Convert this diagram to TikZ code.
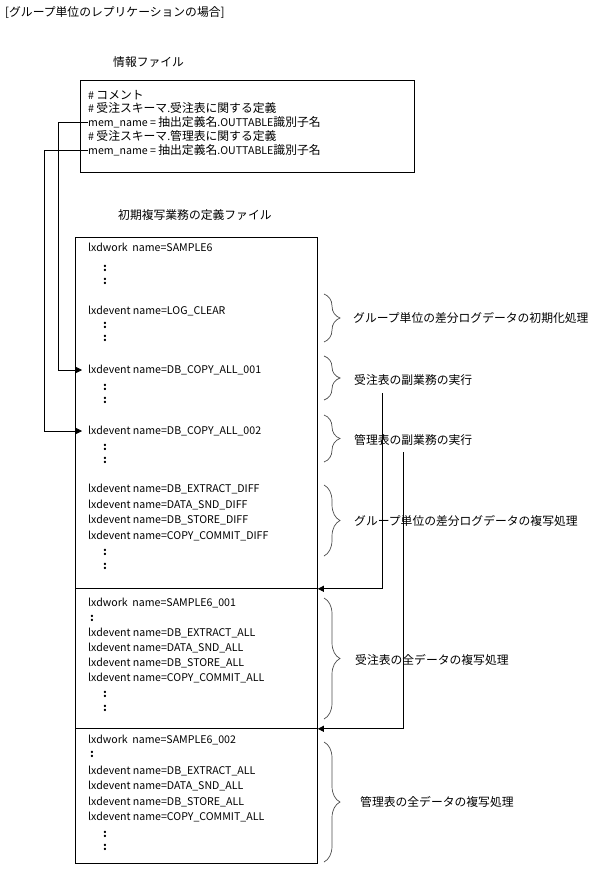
\documentclass[tikz,border=0pt]{standalone}
\usepackage{fontspec}
\setmainfont{Noto Sans CJK JP}
\usetikzlibrary{arrows.meta,decorations.pathreplacing}
\newcommand\jtext[1]{{\fontsize{11.8}{13}\selectfont #1}}
\begin{document}
\begin{tikzpicture}[x=1pt,y=-1pt,
  every node/.style={inner sep=0pt,font=\fontsize{10.6}{13}\selectfont},
  txt/.style={anchor=west},
  jtxt/.style={anchor=west,font=\fontsize{11.8}{13}\selectfont},
  box/.style={draw,line width=0.8pt,anchor=north west,minimum width=242pt},
  brc/.style={draw=black!70,line width=0.7pt,decorate,decoration={brace,amplitude=16pt}},
  conn/.style={draw,line width=0.8pt,-{Triangle[length=6pt,width=6pt]}},
  dots/.style={anchor=west,font=\fontsize{11}{13}\selectfont\bfseries}]
\useasboundingbox (0,0) rectangle (589,870);
% titles
\node[jtxt] (title) at (5,13) {[グループ単位のレプリケーションの場合]};
\node[jtxt] (infotitle) at (113,62) {情報ファイル};
\node[jtxt] (deftitle) at (118,215) {初期複写業務の定義ファイル};
% info box
\node[draw,line width=0.8pt,anchor=north west,minimum width=334pt,minimum height=92pt] (info) at (80,80) {};
\node[txt] (i1) at (88,95) {\# \jtext{コメント}};
\node[txt] (i2) at (88,108) {\# \jtext{受注スキーマ}.\jtext{受注表に関する定義}};
\node[txt] (m1) at (88,122) {mem\_name = \jtext{抽出定義名}.OUTTABLE\jtext{識別子名}};
\node[txt] (i4) at (88,136) {\# \jtext{受注スキーマ}.\jtext{管理表に関する定義}};
\node[txt] (m2) at (88,150) {mem\_name = \jtext{抽出定義名}.OUTTABLE\jtext{識別子名}};
% main blocks
\node[box,minimum height=351pt] (blkA) at (75,237) {};
\node[box,minimum height=140pt] (blkB) at (75,588) {};
\node[box,minimum height=135pt] (blkC) at (75,728) {};
% block A text
\node[txt] (a1) at (88,247) {lxdwork\ \ name=SAMPLE6};
\node[dots] (a1d1) at (103,268) {:};
\node[dots] (a1d2) at (103,281) {:};
\node[txt] (a2) at (88,311) {lxdevent name=LOG\_CLEAR};
\node[dots] (a2d1) at (103,325) {:};
\node[dots] (a2d2) at (103,338) {:};
\node[txt] (c1) at (88,370) {lxdevent name=DB\_COPY\_ALL\_001};
\node[dots] (c1d1) at (103,387) {:};
\node[dots] (c1d2) at (103,400) {:};
\node[txt] (c2) at (88,431) {lxdevent name=DB\_COPY\_ALL\_002};
\node[dots] (c2d1) at (103,447) {:};
\node[dots] (c2d2) at (103,460) {:};
\node[txt] (d1) at (88,489) {lxdevent name=DB\_EXTRACT\_DIFF};
\node[txt] (d2) at (88,505) {lxdevent name=DATA\_SND\_DIFF};
\node[txt] (d3) at (88,520) {lxdevent name=DB\_STORE\_DIFF};
\node[txt] (d4) at (88,536) {lxdevent name=COPY\_COMMIT\_DIFF};
\node[dots] (d4d1) at (103,552) {:};
\node[dots] (d4d2) at (103,566) {:};
% block B text
\node[txt] (b0) at (88,603) {lxdwork\ \ name=SAMPLE6\_001};
\node[dots] (b0d) at (90,618) {:};
\node[txt] (b1) at (88,633) {lxdevent name=DB\_EXTRACT\_ALL};
\node[txt] (b2) at (88,648) {lxdevent name=DATA\_SND\_ALL};
\node[txt] (b3) at (88,663) {lxdevent name=DB\_STORE\_ALL};
\node[txt] (b4) at (88,678) {lxdevent name=COPY\_COMMIT\_ALL};
\node[dots] (b4d1) at (103,694) {:};
\node[dots] (b4d2) at (103,708) {:};
% block C text
\node[txt] (e0) at (88,740) {lxdwork\ \ name=SAMPLE6\_002};
\node[dots] (e0d) at (90,754) {:};
\node[txt] (e1) at (88,771) {lxdevent name=DB\_EXTRACT\_ALL};
\node[txt] (e2) at (88,786) {lxdevent name=DATA\_SND\_ALL};
\node[txt] (e3) at (88,802) {lxdevent name=DB\_STORE\_ALL};
\node[txt] (e4) at (88,817) {lxdevent name=COPY\_COMMIT\_ALL};
\node[dots] (e4d1) at (103,834) {:};
\node[dots] (e4d2) at (103,847) {:};
% braces and labels
\draw[brc] (324,294) -- (324,342);
\node[jtxt] (l1) at (353,318) {グループ単位の差分ログデータの初期化処理};
\draw[brc] (324,356) -- (324,400);
\node[jtxt] (l2) at (354,380) {受注表の副業務の実行};
\draw[brc] (324,415) -- (324,462);
\node[jtxt] (l3) at (354,440) {管理表の副業務の実行};
\draw[brc] (324,485) -- (324,556);
\node[jtxt] (l4) at (354,521) {グループ単位の差分ログデータの複写処理};
\draw[brc] (324,598) -- (324,719);
\node[jtxt] (l5) at (355,660) {受注表の全データの複写処理};
\draw[brc] (324,742) -- (324,862);
\node[jtxt] (l6) at (360,802) {管理表の全データの複写処理};
% left connectors
\coordinate (k1) at (58,0);
\coordinate (k2) at (44,0);
\draw[conn,shorten >=6pt] (m1.west) -- (m1.west -| k1) |- (c1.west);
\draw[conn,shorten >=6pt] (m2.west) -- (m2.west -| k2) |- (c2.west);
% right connectors
\coordinate (v1) at (382,393);
\coordinate (v2) at (403,452);
\draw[conn] (v1) |- (blkA.south east);
\draw[conn] (v2) |- (blkB.south east);
\end{tikzpicture}
\end{document}
